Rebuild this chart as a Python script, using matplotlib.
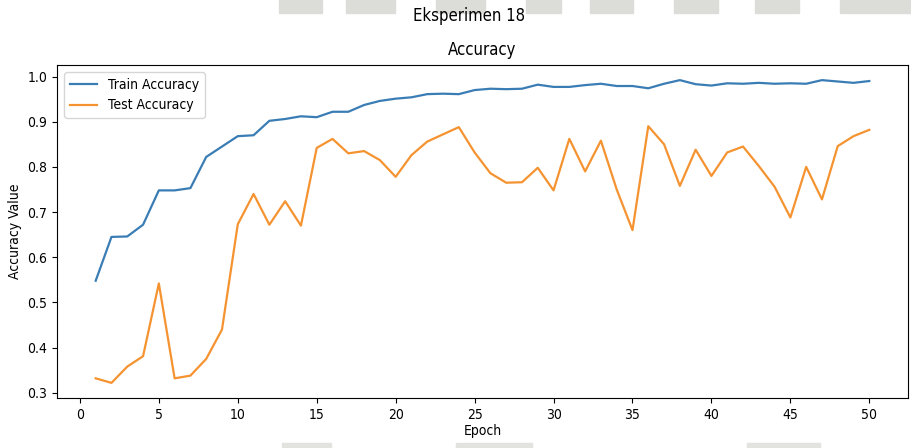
import numpy as np
import matplotlib.pyplot as plt
from matplotlib import font_manager
from matplotlib.patches import Rectangle


epochs = np.arange(1, 51)

train_acc = [
    0.548, 0.645, 0.646, 0.672, 0.748, 0.748, 0.753, 0.822, 0.845, 0.868,
    0.870, 0.902, 0.906, 0.912, 0.910, 0.922, 0.922, 0.937, 0.946, 0.951,
    0.954, 0.961, 0.962, 0.961, 0.970, 0.973, 0.972, 0.973, 0.982, 0.977,
    0.977, 0.981, 0.984, 0.979, 0.979, 0.974, 0.984, 0.992, 0.983, 0.980,
    0.985, 0.984, 0.986, 0.984, 0.985, 0.984, 0.992, 0.989, 0.986, 0.990,
]

test_acc = [
    0.332, 0.322, 0.358, 0.381, 0.542, 0.332, 0.338, 0.375, 0.440, 0.673,
    0.740, 0.672, 0.724, 0.670, 0.842, 0.862, 0.830, 0.835, 0.815, 0.778,
    0.826, 0.856, 0.872, 0.888, 0.832, 0.786, 0.765, 0.766, 0.798, 0.748,
    0.862, 0.790, 0.858, 0.750, 0.660, 0.890, 0.850, 0.758, 0.838, 0.780,
    0.832, 0.845, 0.802, 0.756, 0.688, 0.800, 0.728, 0.846, 0.868, 0.882,
]

# light grey bands along the top and bottom edges (x0, x1 in pixels)
top_bands = [
    (279, 322), (346, 395), (436, 485), (526, 561),
    (590, 633), (674, 718), (755, 799), (840, 911),
]
bottom_bands = [(282, 331), (456, 532), (747, 820)]


def pick_font():
    """Prefer a narrow sans face when one is installed."""
    entries = font_manager.fontManager.ttflist
    for f in entries:
        if f.name == "DejaVu Sans" and str(f.stretch) in ("condensed", "semi-condensed"):
            return "DejaVu Sans", "condensed"
    names = {f.name for f in entries}
    if "Liberation Sans Narrow" in names:
        return "Liberation Sans Narrow", "normal"
    return "DejaVu Sans", "normal"


family, stretch = pick_font()
plt.rcParams["font.family"] = [family, "DejaVu Sans"]
plt.rcParams["font.stretch"] = stretch

W, H = 911, 448
fig = plt.figure(figsize=(W / 100, H / 100), dpi=100)

for x0, x1 in top_bands:
    fig.patches.append(
        Rectangle((x0 / W, 1 - 13 / H), (x1 - x0) / W, 13 / H,
                  transform=fig.transFigure, color="#dcddd8", zorder=0)
    )
for x0, x1 in bottom_bands:
    fig.patches.append(
        Rectangle((x0 / W, 0), (x1 - x0) / W, 5 / H,
                  transform=fig.transFigure, color="#e2e3df", zorder=0)
    )

ax = fig.add_axes([57 / W, 1 - 398 / H, (908 - 57) / W, (398 - 65) / H])

ax.plot(epochs, train_acc, label="Train Accuracy", color="#3a7db5", linewidth=1.6)
ax.plot(epochs, test_acc, label="Test Accuracy", color="#f59331", linewidth=1.6)

ax.set_xticks(np.arange(0, 51, 5))
ax.set_yticks(np.arange(0.3, 1.01, 0.1))

ax.set_xlabel("Epoch", labelpad=2)
ax.set_ylabel("Accuracy Value")
ax.set_title("Accuracy", pad=7)

ax.legend(loc="upper left")

fig.suptitle("Eksperimen 18", x=0.515, y=1 - 7 / H, va="top", fontsize=12)

fig.savefig("out.png", dpi=100)
